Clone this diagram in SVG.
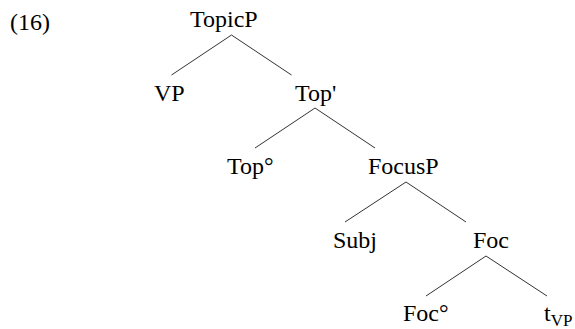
<svg xmlns="http://www.w3.org/2000/svg" width="575" height="329" viewBox="0 0 575 329">
  <style>
    .edge { stroke: #333; stroke-width: 1; fill: none; }
  </style>
  <rect width="575" height="329" fill="#fff"/>
  <text x="10" y="30" font-family="Liberation Serif" font-size="24">(16)</text>

  <!-- tree branches -->
  <g id="edges">
    <path class="edge" d="M171.5,75 L231.5,35 L291.5,75"/>
    <path class="edge" d="M255,148 L315,108 L375,148"/>
    <path class="edge" d="M345,222 L406,182 L466,222"/>
    <path class="edge" d="M426,296 L486,256 L547,296"/>
  </g>

  <g id="topicp"><text x="190" y="27" font-family="Liberation Serif" font-size="24">TopicP</text></g>
  <g id="vp"><text x="154" y="101" font-family="Liberation Serif" font-size="24">VP</text></g>
  <g id="topbar"><text x="295" y="101" font-family="Liberation Serif" font-size="24">Top'</text></g>
  <g id="topzero"><text x="227" y="174" font-family="Liberation Serif" font-size="24">Top°</text></g>
  <g id="focusp"><text x="368" y="174" font-family="Liberation Serif" font-size="24">FocusP</text></g>
  <g id="subj"><text x="333" y="248" font-family="Liberation Serif" font-size="24">Subj</text></g>
  <g id="foc"><text x="473" y="248" font-family="Liberation Serif" font-size="24">Foc</text></g>
  <g id="foczero"><text x="403" y="321" font-family="Liberation Serif" font-size="24">Foc°</text></g>
  <g id="trace"><text x="544" y="321" font-family="Liberation Serif" font-size="24">t<tspan font-size="17" dy="5">VP</tspan></text></g>
</svg>
